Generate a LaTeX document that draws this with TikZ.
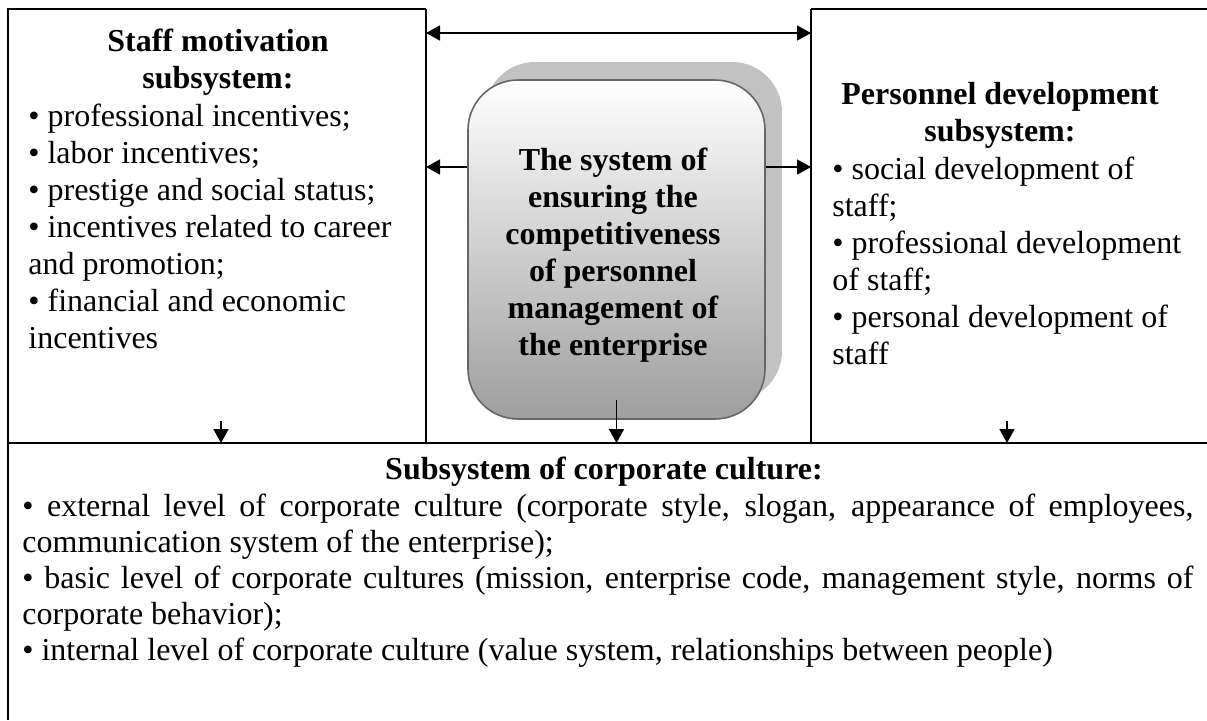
\documentclass[tikz,border=0pt]{standalone}
\usepackage{fontspec}
\setmainfont{Liberation Serif}
\usetikzlibrary{arrows.meta,shadows}
\setlength{\parindent}{0pt}
\newcommand{\bodysize}{\fontsize{16}{18.5}\selectfont}

\tikzset{
  frame/.style={line width=1pt},
  arr/.style={line width=0.8pt, -{Triangle[length=7pt,width=7.5pt]}},
  darr/.style={line width=0.8pt, {Triangle[length=7pt,width=7.5pt]}-{Triangle[length=7pt,width=7.5pt]}},
  corebox/.style={rounded corners=25pt, draw=black!60, line width=0.8pt,
    top color=white, bottom color=black!38,
    minimum width=148.5pt, minimum height=169.5pt,
    drop shadow={shadow xshift=8.5pt, shadow yshift=9pt, fill=black!24, opacity=1}},
  head/.style={align=center, font=\bodysize\bfseries, inner sep=0pt},
  items/.style={align=left, font=\bodysize, inner sep=0pt, anchor=north west},
}

\begin{document}
\begin{tikzpicture}[x=0.5pt,y=-0.5pt]
  \useasboundingbox (0,0) rectangle (1207,720);

  \coordinate (tl) at (8,9);
  \coordinate (ml) at (426,9);
  \coordinate (mr) at (811,9);
  \coordinate (tr) at (1207,9);
  \coordinate (bl) at (8,443);
  \coordinate (br) at (1207,443);
  \coordinate (lwall) at (426,167);
  \coordinate (rwall) at (811,167);
  \coordinate (ltop) at (426,33);
  \coordinate (rtop) at (811,33);

  \draw[frame] (ml) -- (tl) -- (8,720);
  \draw[frame] (mr) -- (tr);
  \draw[frame] (ml) -- (ml |- bl);
  \draw[frame] (mr) -- (mr |- bl);
  \draw[frame] (bl) -- (br);

  \node[head] (motivhead) at (218,62) {Staff motivation\\subsystem:};
  \node[items] (motivlist) at (28,104) {%
    • professional incentives;\\
    • labor incentives;\\
    • prestige and social status;\\
    • incentives related to career\\
    and promotion;\\
    • financial and economic\\
    incentives};

  \node[head] (develhead) at (1000,115) {Personnel development\\subsystem:};
  \node[items] (devellist) at (832,157) {%
    • social development of\\
    staff;\\
    • professional development\\
    of staff;\\
    • personal development of\\
    staff};

  \node[corebox] (core) at (616.5,249.5) {};
  \node[head] (coretext) at (613,255) {The system of\\ensuring the\\competitiveness\\of personnel\\management of\\the enterprise};

  \node[head] (culthead) at (604,472) {Subsystem of corporate culture:};
  \node[items, text width=585.5pt, align=justify, font=\fontsize{16}{18}\selectfont] (cultlist) at (22,494) {%
    • external level of corporate culture (corporate style, slogan, appearance of employees,\linebreak
    communication system of the enterprise);\par
    • basic level of corporate cultures (mission, enterprise code, management style, norms of\linebreak
    corporate behavior);\par
    • internal level of corporate culture (value system, relationships between people)};

  \draw[darr] (ltop) -- (rtop);
  \draw[arr] (core.west |- lwall) -- (lwall);
  \draw[arr] (core.east |- rwall) -- (rwall);
  \draw[arr] ([yshift=10pt]core.south) -- (core.south |- bl);
  \draw[arr] (221,421) -- (221,443);
  \draw[arr] (1007,421) -- (1007,443);
\end{tikzpicture}
\end{document}
